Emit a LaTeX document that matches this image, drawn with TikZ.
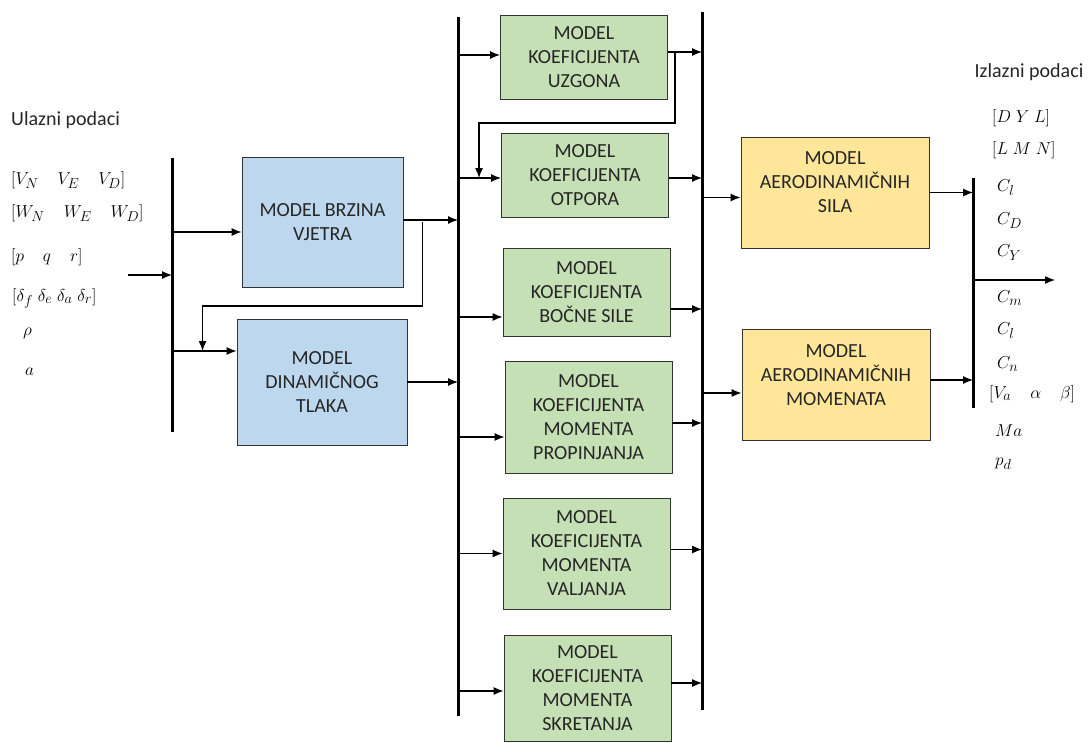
\documentclass[tikz,border=0pt]{standalone}
\usepackage{fontspec}
\setmainfont{Carlito}
\usetikzlibrary{positioning,calc,arrows.meta}
\definecolor{windblue}{HTML}{BDD7EE}
\definecolor{coefgreen}{HTML}{C5E0B4}
\definecolor{aeroyellow}{HTML}{FFE699}

\begin{document}
\begin{tikzpicture}[x=1pt, y=-1pt,
        box/.style={draw=black!80, line width=0.9pt, align=center, inner sep=0pt,
            text=black!85, font=\fontsize{20}{24}\selectfont},
        bluebox/.style={box, fill=windblue},
        greenbox/.style={box, fill=coefgreen, minimum width=167pt},
        yellowbox/.style={box, fill=aeroyellow, minimum width=188pt, minimum height=111pt, text depth=20pt},
        bus/.style={line width=3pt},
        arr/.style={line width=1.2pt, -{Latex[length=10pt, width=8pt]}},
        lbl/.style={anchor=west, inner sep=0pt, text=black, font=\fontsize{19}{22}\selectfont},
        title/.style={inner sep=0pt, text=black!85, font=\fontsize{20}{24}\selectfont}]
    \useasboundingbox (0,0) rectangle (1091,742);
    % input and output data
    \node[title, anchor=west] (ulaz) at (11,120) {Ulazni podaci};
    \node[lbl] (brzine) at (11,180) {$[V_N\quad V_E\quad V_D]$};
    \node[lbl] (vjetar) at (11,213) {$[W_N\quad W_E\quad W_D]$};
    \node[lbl] (kutne) at (11,257) {$[p\quad q\quad r]$};
    \node[lbl] (upravlj) at (12,298) {$\bigl[\delta_f\;\delta_e\;\delta_a\;\delta_r\bigr]$};
    \node[lbl] (rho) at (23,333) {$\rho$};
    \node[lbl] (zvuk) at (25,372) {$a$};
    \node[title] (izlaz) at (1029,72) {Izlazni podaci};
    \node[lbl] (sile) at (992,118) {$[D\;Y\;L]$};
    \node[lbl] (momenti) at (992,150) {$[L\;M\;N]$};
    \node[lbl] (cl) at (997,188) {$C_l$};
    \node[lbl] (cd) at (997,221) {$C_D$};
    \node[lbl] (cy) at (997,253) {$C_Y$};
    \node[lbl] (cm) at (997,298) {$C_m$};
    \node[lbl] (cll) at (997,331) {$C_l$};
    \node[lbl] (cn) at (997,364) {$C_n$};
    \node[lbl] (stanje) at (989,394) {$[V_a\quad\alpha\quad\beta]$};
    \node[lbl] (mach) at (995,431) {$Ma$};
    \node[lbl] (tlak) at (995,464) {$p_d$};
    % the model blocks
    \node[bluebox, minimum width=161pt, minimum height=130pt] (brzina) at (322.5,222) {MODEL BRZINA\\VJETRA};
    \node[bluebox, minimum width=170pt, minimum height=126pt] (din) at (322,382) {MODEL\\DINAMIČNOG\\TLAKA};
    \node[greenbox, minimum height=84pt] (uzgon) at (584,57) {MODEL\\KOEFICIJENTA\\UZGONA};
    \node[greenbox, minimum height=84pt] (otpor) at (585,175) {MODEL\\KOEFICIJENTA\\OTPORA};
    \node[greenbox, minimum height=88pt] (bocna) at (586.5,292) {MODEL\\KOEFICIJENTA\\BOČNE SILE};
    \node[greenbox, minimum height=112pt] (propinj) at (588.5,417) {MODEL\\KOEFICIJENTA\\MOMENTA\\PROPINJANJA};
    \node[greenbox, minimum height=111pt] (valjanje) at (586.5,553.5) {MODEL\\KOEFICIJENTA\\MOMENTA\\VALJANJA};
    \node[greenbox, minimum height=106pt] (skret) at (587.5,688) {MODEL\\KOEFICIJENTA\\MOMENTA\\SKRETANJA};
    \node[yellowbox] (aerosile) at (835,192.5) {MODEL\\AERODINAMIČNIH\\SILA};
    \node[yellowbox] (aeromom) at (836,385) {MODEL\\AERODINAMIČNIH\\MOMENATA};
    % the buses
    \coordinate (inbusT) at (172,158);
    \coordinate (inbusB) at (172,432);
    \coordinate (midbusT) at (458,17);
    \coordinate (midbusB) at (458,716);
    \coordinate (coefbusT) at (702,12);
    \coordinate (coefbusB) at (702,710);
    \coordinate (outbusT) at (973,178);
    \coordinate (outbusB) at (973,408);
    \draw[bus] (inbusT) -- (inbusB);
    \draw[bus] (midbusT) -- (midbusB);
    \draw[bus] (coefbusT) -- (coefbusB);
    \draw[bus] (outbusT) -- (outbusB);
    % inputs to wind and pressure models
    \coordinate (ulazstart) at (128,275);
    \draw[arr] (ulazstart) -- (ulazstart -| inbusT);
    \draw[arr] ([yshift=-10pt]brzina.west -| inbusT) -- ([yshift=-10pt]brzina.west);
    \draw[arr] ([yshift=31pt]din.west -| inbusT) -- ([yshift=31pt]din.west);
    \draw[arr] ([xshift=19pt]brzina.east) -- ++(0,84) -| ([xshift=-34pt, yshift=31pt]din.west);
    \draw[arr] ([yshift=2pt]brzina.east) -- ([yshift=2pt]brzina.east -| midbusT);
    \draw[arr] (din.east) -- (din.east -| midbusT);
    % coefficient models
    \draw[arr] ([yshift=2pt]uzgon.west -| midbusT) -- ([yshift=2pt]uzgon.west);
    \draw[arr] ([yshift=5pt]uzgon.east) -- ([yshift=5pt]uzgon.east -| coefbusT);
    \draw[arr] ([xshift=7pt, yshift=5pt]uzgon.east) -- ++(0,71) -| ([xshift=-22pt, yshift=-3pt]otpor.west);
    \draw[arr] ([yshift=-3pt]otpor.west -| midbusT) -- ([yshift=-3pt]otpor.west);
    \draw[arr] ([yshift=-3pt]otpor.east) -- ([yshift=-3pt]otpor.east -| coefbusT);
    \draw[arr] ([yshift=-25pt]bocna.west -| midbusT) -- ([yshift=-25pt]bocna.west);
    \draw[arr] ([yshift=-17pt]bocna.east) -- ([yshift=-17pt]bocna.east -| coefbusT);
    \draw[arr] ([yshift=-20pt]propinj.west -| midbusT) -- ([yshift=-20pt]propinj.west);
    \draw[arr] ([yshift=-6pt]propinj.east) -- ([yshift=-6pt]propinj.east -| coefbusT);
    \draw[arr] (valjanje.west -| midbusT) -- (valjanje.west);
    \draw[arr] ([yshift=4pt]valjanje.east) -- ([yshift=4pt]valjanje.east -| coefbusT);
    \draw[arr] ([yshift=-3pt]skret.west -| midbusT) -- ([yshift=-3pt]skret.west);
    \draw[arr] ([yshift=5pt]skret.east) -- ([yshift=5pt]skret.east -| coefbusT);
    % aerodynamic models and output
    \draw[arr] ([yshift=-5pt]aerosile.west -| coefbusT) -- ([yshift=-5pt]aerosile.west);
    \draw[arr] (aerosile.east) -- (aerosile.east -| outbusT);
    \draw[arr] ([yshift=-8pt]aeromom.west -| coefbusT) -- ([yshift=-8pt]aeromom.west);
    \draw[arr] ([yshift=5pt]aeromom.east) -- ([yshift=5pt]aeromom.east -| outbusT);
    \coordinate (izlazend) at (1055,280);
    \draw[arr] (izlazend -| outbusT) -- (izlazend);
\end{tikzpicture}
\end{document}
